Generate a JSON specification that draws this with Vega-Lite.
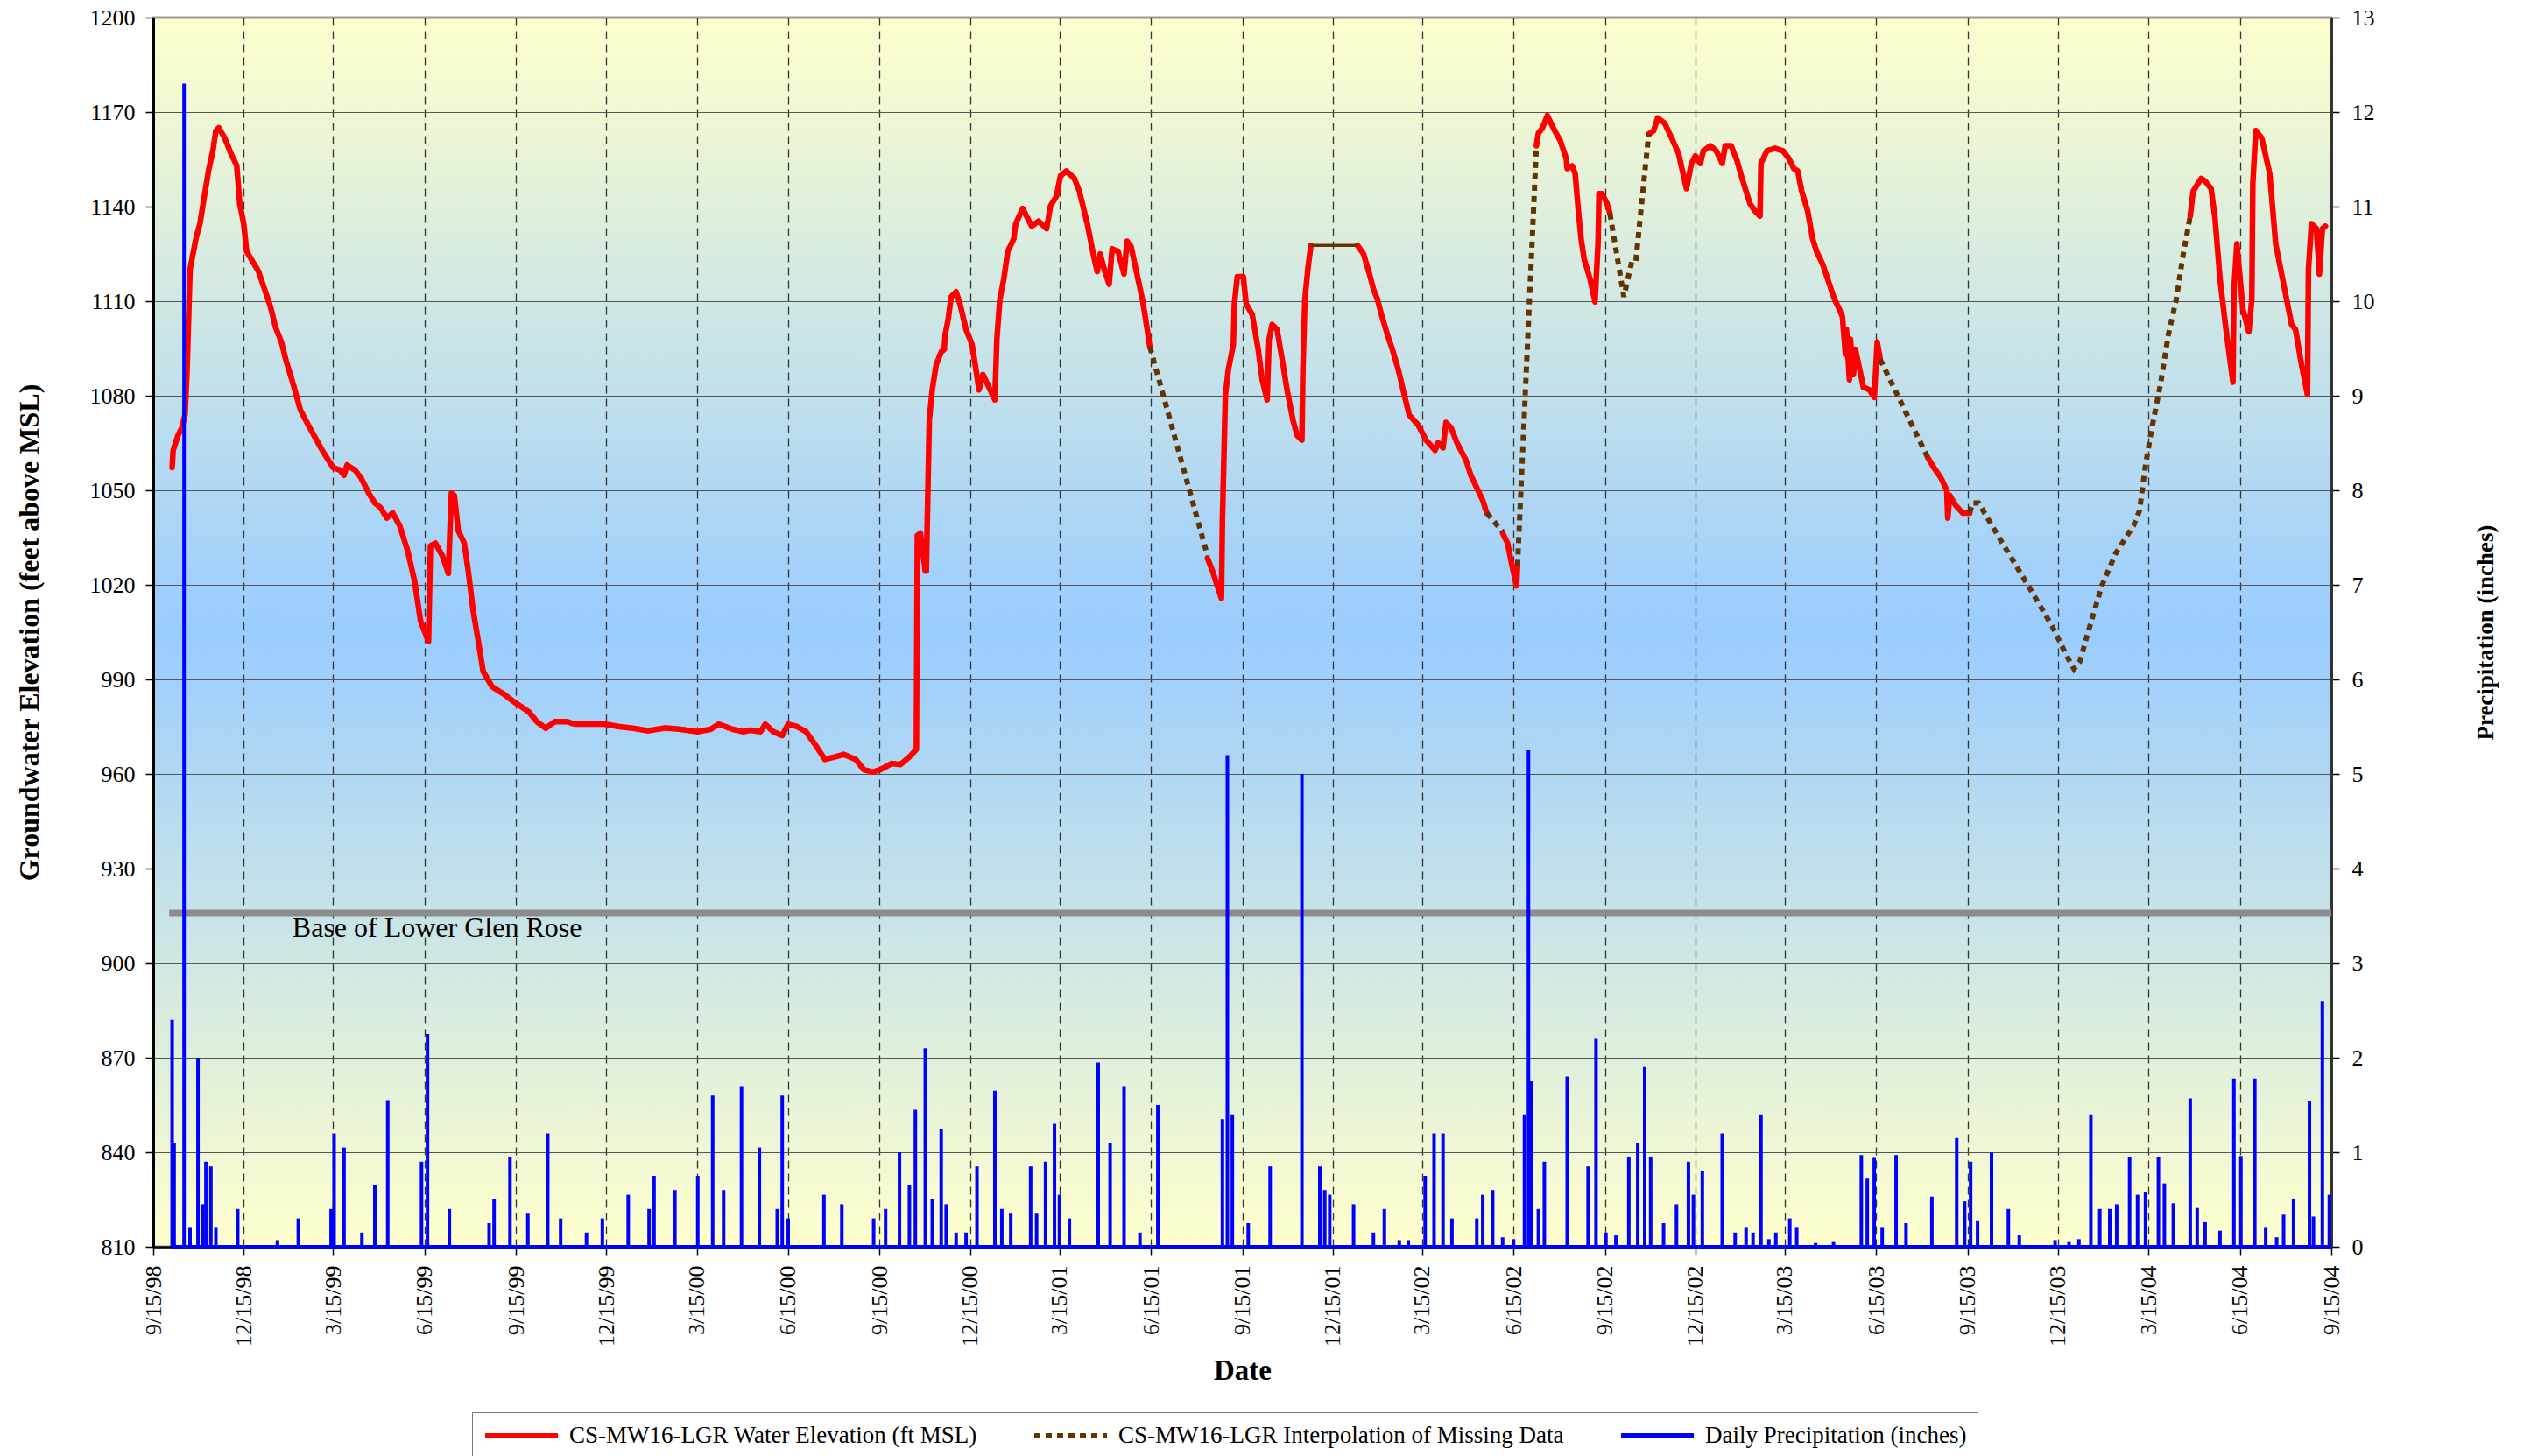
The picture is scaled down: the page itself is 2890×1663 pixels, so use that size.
{
  "$schema": "https://vega.github.io/schema/vega-lite/v6.json",
  "width": 2487,
  "height": 1404,
  "autosize": {"type": "none"},
  "padding": {"left": 175, "top": 20, "right": 228, "bottom": 239},
  "background": "white",
  "view": {
    "fill": {"gradient": "linear", "x1": 0, "y1": 0, "x2": 0, "y2": 1,
      "stops": [{"offset": 0, "color": "#FFFFCC"}, {"offset": 0.5, "color": "#99CCFF"}, {"offset": 1, "color": "#FFFFCC"}]},
    "stroke": "#999999",
    "strokeWidth": 3
  },
  "config": {
    "font": "Liberation Serif",
    "axis": {
      "labelFont": "Liberation Serif", "titleFont": "Liberation Serif",
      "labelColor": "black", "titleColor": "black",
      "labelFontSize": 26, "titleFontSize": 28, "titleFontWeight": "bold",
      "tickColor": "black", "tickSize": 9, "tickWidth": 1.5,
      "domainColor": "black", "domainWidth": 2.5
    }
  },
  "datasets": {
    "red": [
      {"seg": 1, "date": "1998/10/04", "elev": 1057.2},
      {"seg": 1, "date": "1998/10/05", "elev": 1062.7},
      {"seg": 1, "date": "1998/10/10", "elev": 1067.5},
      {"seg": 1, "date": "1998/10/14", "elev": 1070},
      {"seg": 1, "date": "1998/10/17", "elev": 1074},
      {"seg": 1, "date": "1998/10/19", "elev": 1088},
      {"seg": 1, "date": "1998/10/22", "elev": 1120},
      {"seg": 1, "date": "1998/10/25", "elev": 1125},
      {"seg": 1, "date": "1998/10/28", "elev": 1130},
      {"seg": 1, "date": "1998/11/01", "elev": 1134.6},
      {"seg": 1, "date": "1998/11/05", "elev": 1142.5},
      {"seg": 1, "date": "1998/11/10", "elev": 1152},
      {"seg": 1, "date": "1998/11/14", "elev": 1157.7},
      {"seg": 1, "date": "1998/11/17", "elev": 1164},
      {"seg": 1, "date": "1998/11/20", "elev": 1165},
      {"seg": 1, "date": "1998/11/26", "elev": 1161.7},
      {"seg": 1, "date": "1998/12/02", "elev": 1157},
      {"seg": 1, "date": "1998/12/08", "elev": 1153},
      {"seg": 1, "date": "1998/12/11", "elev": 1141},
      {"seg": 1, "date": "1998/12/15", "elev": 1134.6},
      {"seg": 1, "date": "1998/12/18", "elev": 1125.8},
      {"seg": 1, "date": "1998/12/24", "elev": 1122.6},
      {"seg": 1, "date": "1998/12/30", "elev": 1119.4},
      {"seg": 1, "date": "1999/01/05", "elev": 1113.8},
      {"seg": 1, "date": "1999/01/11", "elev": 1108.2},
      {"seg": 1, "date": "1999/01/16", "elev": 1101.8},
      {"seg": 1, "date": "1999/01/22", "elev": 1097},
      {"seg": 1, "date": "1999/01/27", "elev": 1090.7},
      {"seg": 1, "date": "1999/02/03", "elev": 1083.5},
      {"seg": 1, "date": "1999/02/10", "elev": 1075.5},
      {"seg": 1, "date": "1999/02/18", "elev": 1070.7},
      {"seg": 1, "date": "1999/02/25", "elev": 1066.7},
      {"seg": 1, "date": "1999/03/04", "elev": 1062.7},
      {"seg": 1, "date": "1999/03/15", "elev": 1057.2},
      {"seg": 1, "date": "1999/03/22", "elev": 1056.4},
      {"seg": 1, "date": "1999/03/26", "elev": 1054.8},
      {"seg": 1, "date": "1999/03/29", "elev": 1058},
      {"seg": 1, "date": "1999/04/06", "elev": 1056.4},
      {"seg": 1, "date": "1999/04/12", "elev": 1054},
      {"seg": 1, "date": "1999/04/20", "elev": 1049},
      {"seg": 1, "date": "1999/04/26", "elev": 1046},
      {"seg": 1, "date": "1999/05/02", "elev": 1044.4},
      {"seg": 1, "date": "1999/05/08", "elev": 1041.2},
      {"seg": 1, "date": "1999/05/14", "elev": 1042.8},
      {"seg": 1, "date": "1999/05/21", "elev": 1038.8},
      {"seg": 1, "date": "1999/05/29", "elev": 1030.8},
      {"seg": 1, "date": "1999/06/05", "elev": 1021.2},
      {"seg": 1, "date": "1999/06/11", "elev": 1008.5},
      {"seg": 1, "date": "1999/06/15", "elev": 1005.3},
      {"seg": 1, "date": "1999/06/19", "elev": 1002},
      {"seg": 1, "date": "1999/06/21", "elev": 1032.4},
      {"seg": 1, "date": "1999/06/26", "elev": 1033.2},
      {"seg": 1, "date": "1999/07/03", "elev": 1029.2},
      {"seg": 1, "date": "1999/07/09", "elev": 1023.6},
      {"seg": 1, "date": "1999/07/12", "elev": 1049},
      {"seg": 1, "date": "1999/07/15", "elev": 1048.4},
      {"seg": 1, "date": "1999/07/19", "elev": 1037.2},
      {"seg": 1, "date": "1999/07/25", "elev": 1033.2},
      {"seg": 1, "date": "1999/07/29", "elev": 1024.4},
      {"seg": 1, "date": "1999/08/03", "elev": 1011.7},
      {"seg": 1, "date": "1999/08/09", "elev": 1000.5},
      {"seg": 1, "date": "1999/08/13", "elev": 992.5},
      {"seg": 1, "date": "1999/08/22", "elev": 987.7},
      {"seg": 1, "date": "1999/09/03", "elev": 985.3},
      {"seg": 1, "date": "1999/09/13", "elev": 982.9},
      {"seg": 1, "date": "1999/09/28", "elev": 979.7},
      {"seg": 1, "date": "1999/10/06", "elev": 976.6},
      {"seg": 1, "date": "1999/10/15", "elev": 974.5},
      {"seg": 1, "date": "1999/10/24", "elev": 976.6},
      {"seg": 1, "date": "1999/11/05", "elev": 976.6},
      {"seg": 1, "date": "1999/11/14", "elev": 975.8},
      {"seg": 1, "date": "1999/11/28", "elev": 975.8},
      {"seg": 1, "date": "1999/12/13", "elev": 975.8},
      {"seg": 1, "date": "1999/12/28", "elev": 975},
      {"seg": 1, "date": "2000/01/11", "elev": 974.5},
      {"seg": 1, "date": "2000/01/26", "elev": 973.7},
      {"seg": 1, "date": "2000/02/12", "elev": 974.6},
      {"seg": 1, "date": "2000/02/27", "elev": 974.2},
      {"seg": 1, "date": "2000/03/16", "elev": 973.4},
      {"seg": 1, "date": "2000/03/29", "elev": 974.2},
      {"seg": 1, "date": "2000/04/06", "elev": 975.8},
      {"seg": 1, "date": "2000/04/20", "elev": 974.2},
      {"seg": 1, "date": "2000/05/01", "elev": 973.4},
      {"seg": 1, "date": "2000/05/08", "elev": 973.9},
      {"seg": 1, "date": "2000/05/18", "elev": 973.4},
      {"seg": 1, "date": "2000/05/23", "elev": 975.8},
      {"seg": 1, "date": "2000/05/31", "elev": 973.4},
      {"seg": 1, "date": "2000/06/09", "elev": 972.2},
      {"seg": 1, "date": "2000/06/15", "elev": 975.8},
      {"seg": 1, "date": "2000/06/24", "elev": 975},
      {"seg": 1, "date": "2000/07/03", "elev": 973.4},
      {"seg": 1, "date": "2000/07/12", "elev": 969.4},
      {"seg": 1, "date": "2000/07/22", "elev": 964.6},
      {"seg": 1, "date": "2000/08/01", "elev": 965.4},
      {"seg": 1, "date": "2000/08/10", "elev": 966.2},
      {"seg": 1, "date": "2000/08/22", "elev": 964.6},
      {"seg": 1, "date": "2000/08/30", "elev": 961.4},
      {"seg": 1, "date": "2000/09/08", "elev": 960.6},
      {"seg": 1, "date": "2000/09/16", "elev": 961.4},
      {"seg": 1, "date": "2000/09/27", "elev": 963.3},
      {"seg": 1, "date": "2000/10/06", "elev": 963},
      {"seg": 1, "date": "2000/10/15", "elev": 965.4},
      {"seg": 1, "date": "2000/10/22", "elev": 967.8},
      {"seg": 1, "date": "2000/10/23", "elev": 1035.6},
      {"seg": 1, "date": "2000/10/26", "elev": 1036.4},
      {"seg": 1, "date": "2000/10/31", "elev": 1024.4},
      {"seg": 1, "date": "2000/11/01", "elev": 1024.4},
      {"seg": 1, "date": "2000/11/03", "elev": 1056.4},
      {"seg": 1, "date": "2000/11/04", "elev": 1072.3},
      {"seg": 1, "date": "2000/11/07", "elev": 1082},
      {"seg": 1, "date": "2000/11/11", "elev": 1089.9},
      {"seg": 1, "date": "2000/11/16", "elev": 1093.9},
      {"seg": 1, "date": "2000/11/19", "elev": 1094.7},
      {"seg": 1, "date": "2000/11/20", "elev": 1099.4},
      {"seg": 1, "date": "2000/11/23", "elev": 1104.2},
      {"seg": 1, "date": "2000/11/26", "elev": 1111.4},
      {"seg": 1, "date": "2000/12/01", "elev": 1113},
      {"seg": 1, "date": "2000/12/05", "elev": 1109},
      {"seg": 1, "date": "2000/12/11", "elev": 1101},
      {"seg": 1, "date": "2000/12/17", "elev": 1096.3},
      {"seg": 1, "date": "2000/12/21", "elev": 1088.3},
      {"seg": 1, "date": "2000/12/24", "elev": 1081.9},
      {"seg": 1, "date": "2000/12/28", "elev": 1086.7},
      {"seg": 1, "date": "2001/01/03", "elev": 1082.7},
      {"seg": 1, "date": "2001/01/09", "elev": 1078.7},
      {"seg": 1, "date": "2001/01/11", "elev": 1097.9},
      {"seg": 1, "date": "2001/01/14", "elev": 1110.6},
      {"seg": 1, "date": "2001/01/18", "elev": 1117},
      {"seg": 1, "date": "2001/01/22", "elev": 1125.8},
      {"seg": 1, "date": "2001/01/28", "elev": 1129.8},
      {"seg": 1, "date": "2001/01/30", "elev": 1134.6},
      {"seg": 1, "date": "2001/02/06", "elev": 1139.4},
      {"seg": 1, "date": "2001/02/15", "elev": 1133.8},
      {"seg": 1, "date": "2001/02/22", "elev": 1135.4},
      {"seg": 1, "date": "2001/03/02", "elev": 1133},
      {"seg": 1, "date": "2001/03/06", "elev": 1140.2},
      {"seg": 1, "date": "2001/03/12", "elev": 1143.3},
      {"seg": 1, "date": "2001/03/16", "elev": 1149.7},
      {"seg": 1, "date": "2001/03/22", "elev": 1151.3},
      {"seg": 1, "date": "2001/03/30", "elev": 1148.9},
      {"seg": 1, "date": "2001/04/04", "elev": 1144.9},
      {"seg": 1, "date": "2001/04/12", "elev": 1134.6},
      {"seg": 1, "date": "2001/04/18", "elev": 1125},
      {"seg": 1, "date": "2001/04/22", "elev": 1119.4},
      {"seg": 1, "date": "2001/04/25", "elev": 1125},
      {"seg": 1, "date": "2001/04/29", "elev": 1120.2},
      {"seg": 1, "date": "2001/05/04", "elev": 1115.4},
      {"seg": 1, "date": "2001/05/07", "elev": 1126.6},
      {"seg": 1, "date": "2001/05/13", "elev": 1125.8},
      {"seg": 1, "date": "2001/05/19", "elev": 1118.6},
      {"seg": 1, "date": "2001/05/22", "elev": 1129},
      {"seg": 1, "date": "2001/05/26", "elev": 1127.4},
      {"seg": 1, "date": "2001/06/01", "elev": 1118.6},
      {"seg": 1, "date": "2001/06/07", "elev": 1109.8},
      {"seg": 1, "date": "2001/06/14", "elev": 1095.5},
      {"seg": 2, "date": "2001/08/11", "elev": 1028.4},
      {"seg": 2, "date": "2001/08/16", "elev": 1024.4},
      {"seg": 2, "date": "2001/08/25", "elev": 1015.7},
      {"seg": 2, "date": "2001/08/26", "elev": 1040.4},
      {"seg": 2, "date": "2001/08/29", "elev": 1080.3},
      {"seg": 2, "date": "2001/09/01", "elev": 1088.3},
      {"seg": 2, "date": "2001/09/06", "elev": 1096.3},
      {"seg": 2, "date": "2001/09/07", "elev": 1109},
      {"seg": 2, "date": "2001/09/10", "elev": 1117.8},
      {"seg": 2, "date": "2001/09/16", "elev": 1117.8},
      {"seg": 2, "date": "2001/09/19", "elev": 1109},
      {"seg": 2, "date": "2001/09/25", "elev": 1105.8},
      {"seg": 2, "date": "2001/10/01", "elev": 1094.7},
      {"seg": 2, "date": "2001/10/05", "elev": 1085.1},
      {"seg": 2, "date": "2001/10/10", "elev": 1078.7},
      {"seg": 2, "date": "2001/10/12", "elev": 1097.9},
      {"seg": 2, "date": "2001/10/15", "elev": 1102.6},
      {"seg": 2, "date": "2001/10/20", "elev": 1101},
      {"seg": 2, "date": "2001/10/26", "elev": 1089.9},
      {"seg": 2, "date": "2001/10/30", "elev": 1081.9},
      {"seg": 2, "date": "2001/11/05", "elev": 1072.3},
      {"seg": 2, "date": "2001/11/09", "elev": 1067.5},
      {"seg": 2, "date": "2001/11/14", "elev": 1065.9},
      {"seg": 2, "date": "2001/11/15", "elev": 1088.3},
      {"seg": 2, "date": "2001/11/17", "elev": 1110.6},
      {"seg": 2, "date": "2001/11/20", "elev": 1120.2},
      {"seg": 2, "date": "2001/11/23", "elev": 1127.7},
      {"seg": 3, "date": "2002/01/09", "elev": 1127.7},
      {"seg": 3, "date": "2002/01/15", "elev": 1125},
      {"seg": 3, "date": "2002/01/21", "elev": 1118.6},
      {"seg": 3, "date": "2002/01/25", "elev": 1113.8},
      {"seg": 3, "date": "2002/01/29", "elev": 1110.6},
      {"seg": 3, "date": "2002/02/02", "elev": 1105.8},
      {"seg": 3, "date": "2002/02/08", "elev": 1099.4},
      {"seg": 3, "date": "2002/02/13", "elev": 1094.7},
      {"seg": 3, "date": "2002/02/19", "elev": 1088.3},
      {"seg": 3, "date": "2002/02/25", "elev": 1080.3},
      {"seg": 3, "date": "2002/03/02", "elev": 1073.9},
      {"seg": 3, "date": "2002/03/11", "elev": 1070.7},
      {"seg": 3, "date": "2002/03/19", "elev": 1065.9},
      {"seg": 3, "date": "2002/03/28", "elev": 1062.7},
      {"seg": 3, "date": "2002/03/31", "elev": 1065.1},
      {"seg": 3, "date": "2002/04/05", "elev": 1063.5},
      {"seg": 3, "date": "2002/04/08", "elev": 1071.5},
      {"seg": 3, "date": "2002/04/13", "elev": 1069.9},
      {"seg": 3, "date": "2002/04/19", "elev": 1065.1},
      {"seg": 3, "date": "2002/04/28", "elev": 1059.6},
      {"seg": 3, "date": "2002/05/03", "elev": 1054.8},
      {"seg": 3, "date": "2002/05/09", "elev": 1050.8},
      {"seg": 3, "date": "2002/05/15", "elev": 1046.8},
      {"seg": 3, "date": "2002/05/19", "elev": 1042.8},
      {"seg": 4, "date": "2002/06/04", "elev": 1036.4},
      {"seg": 4, "date": "2002/06/09", "elev": 1033.2},
      {"seg": 4, "date": "2002/06/13", "elev": 1026.8},
      {"seg": 4, "date": "2002/06/18", "elev": 1019.7},
      {"seg": 4, "date": "2002/06/19", "elev": 1026},
      {"seg": 5, "date": "2002/07/08", "elev": 1159.3},
      {"seg": 5, "date": "2002/07/10", "elev": 1163.3},
      {"seg": 5, "date": "2002/07/14", "elev": 1164.9},
      {"seg": 5, "date": "2002/07/19", "elev": 1168.9},
      {"seg": 5, "date": "2002/07/25", "elev": 1164.9},
      {"seg": 5, "date": "2002/08/01", "elev": 1160.9},
      {"seg": 5, "date": "2002/08/07", "elev": 1155.3},
      {"seg": 5, "date": "2002/08/08", "elev": 1152.1},
      {"seg": 5, "date": "2002/08/13", "elev": 1152.9},
      {"seg": 5, "date": "2002/08/16", "elev": 1150.5},
      {"seg": 5, "date": "2002/08/19", "elev": 1139.4},
      {"seg": 5, "date": "2002/08/22", "elev": 1129.8},
      {"seg": 5, "date": "2002/08/25", "elev": 1123.4},
      {"seg": 5, "date": "2002/08/31", "elev": 1117},
      {"seg": 5, "date": "2002/09/05", "elev": 1109.8},
      {"seg": 5, "date": "2002/09/08", "elev": 1128.2},
      {"seg": 5, "date": "2002/09/09", "elev": 1144.1},
      {"seg": 5, "date": "2002/09/12", "elev": 1144.1},
      {"seg": 5, "date": "2002/09/17", "elev": 1141},
      {"seg": 5, "date": "2002/09/20", "elev": 1137.8},
      {"seg": 6, "date": "2002/10/29", "elev": 1163},
      {"seg": 6, "date": "2002/11/03", "elev": 1164.1},
      {"seg": 6, "date": "2002/11/07", "elev": 1168.1},
      {"seg": 6, "date": "2002/11/14", "elev": 1166.5},
      {"seg": 6, "date": "2002/11/20", "elev": 1162.5},
      {"seg": 6, "date": "2002/11/28", "elev": 1156.9},
      {"seg": 6, "date": "2002/12/02", "elev": 1151.3},
      {"seg": 6, "date": "2002/12/06", "elev": 1145.7},
      {"seg": 6, "date": "2002/12/11", "elev": 1153.7},
      {"seg": 6, "date": "2002/12/15", "elev": 1156.1},
      {"seg": 6, "date": "2002/12/20", "elev": 1153.7},
      {"seg": 6, "date": "2002/12/23", "elev": 1157.7},
      {"seg": 6, "date": "2002/12/30", "elev": 1159.3},
      {"seg": 6, "date": "2003/01/05", "elev": 1157.7},
      {"seg": 6, "date": "2003/01/11", "elev": 1153.7},
      {"seg": 6, "date": "2003/01/14", "elev": 1159.3},
      {"seg": 6, "date": "2003/01/20", "elev": 1159.3},
      {"seg": 6, "date": "2003/01/26", "elev": 1154.5},
      {"seg": 6, "date": "2003/01/31", "elev": 1148.9},
      {"seg": 6, "date": "2003/02/08", "elev": 1140.9},
      {"seg": 6, "date": "2003/02/13", "elev": 1138.6},
      {"seg": 6, "date": "2003/02/18", "elev": 1137},
      {"seg": 6, "date": "2003/02/19", "elev": 1153.7},
      {"seg": 6, "date": "2003/02/25", "elev": 1157.7},
      {"seg": 6, "date": "2003/03/05", "elev": 1158.5},
      {"seg": 6, "date": "2003/03/13", "elev": 1157.7},
      {"seg": 6, "date": "2003/03/19", "elev": 1155.3},
      {"seg": 6, "date": "2003/03/24", "elev": 1152.1},
      {"seg": 6, "date": "2003/03/28", "elev": 1151.3},
      {"seg": 6, "date": "2003/04/01", "elev": 1144.9},
      {"seg": 6, "date": "2003/04/07", "elev": 1138.6},
      {"seg": 6, "date": "2003/04/12", "elev": 1129.8},
      {"seg": 6, "date": "2003/04/16", "elev": 1125.8},
      {"seg": 6, "date": "2003/04/22", "elev": 1121.8},
      {"seg": 6, "date": "2003/04/28", "elev": 1116.2},
      {"seg": 6, "date": "2003/05/04", "elev": 1110.6},
      {"seg": 6, "date": "2003/05/09", "elev": 1107.4},
      {"seg": 6, "date": "2003/05/12", "elev": 1105},
      {"seg": 6, "date": "2003/05/15", "elev": 1093.1},
      {"seg": 6, "date": "2003/05/16", "elev": 1101},
      {"seg": 6, "date": "2003/05/19", "elev": 1085.1},
      {"seg": 6, "date": "2003/05/20", "elev": 1097.9},
      {"seg": 6, "date": "2003/05/23", "elev": 1086.7},
      {"seg": 6, "date": "2003/05/25", "elev": 1094.7},
      {"seg": 6, "date": "2003/05/31", "elev": 1085.9},
      {"seg": 6, "date": "2003/06/02", "elev": 1082.7},
      {"seg": 6, "date": "2003/06/08", "elev": 1081.9},
      {"seg": 6, "date": "2003/06/13", "elev": 1079.5},
      {"seg": 6, "date": "2003/06/16", "elev": 1097},
      {"seg": 6, "date": "2003/06/19", "elev": 1091.5},
      {"seg": 7, "date": "2003/08/06", "elev": 1060.3},
      {"seg": 7, "date": "2003/08/12", "elev": 1057.2},
      {"seg": 7, "date": "2003/08/19", "elev": 1054},
      {"seg": 7, "date": "2003/08/25", "elev": 1050},
      {"seg": 7, "date": "2003/08/26", "elev": 1041.2},
      {"seg": 7, "date": "2003/08/28", "elev": 1048.4},
      {"seg": 7, "date": "2003/09/03", "elev": 1045.2},
      {"seg": 7, "date": "2003/09/10", "elev": 1042.8},
      {"seg": 7, "date": "2003/09/17", "elev": 1042.8},
      {"seg": 8, "date": "2004/04/26", "elev": 1137},
      {"seg": 8, "date": "2004/04/29", "elev": 1144.9},
      {"seg": 8, "date": "2004/05/07", "elev": 1148.9},
      {"seg": 8, "date": "2004/05/11", "elev": 1148.1},
      {"seg": 8, "date": "2004/05/17", "elev": 1145.7},
      {"seg": 8, "date": "2004/05/21", "elev": 1136.2},
      {"seg": 8, "date": "2004/05/26", "elev": 1117},
      {"seg": 8, "date": "2004/06/01", "elev": 1101},
      {"seg": 8, "date": "2004/06/08", "elev": 1084.3},
      {"seg": 8, "date": "2004/06/09", "elev": 1113.8},
      {"seg": 8, "date": "2004/06/12", "elev": 1128.2},
      {"seg": 8, "date": "2004/06/18", "elev": 1107.4},
      {"seg": 8, "date": "2004/06/24", "elev": 1100.3},
      {"seg": 8, "date": "2004/06/27", "elev": 1110.6},
      {"seg": 8, "date": "2004/06/28", "elev": 1147.3},
      {"seg": 8, "date": "2004/07/01", "elev": 1164.1},
      {"seg": 8, "date": "2004/07/07", "elev": 1161.7},
      {"seg": 8, "date": "2004/07/15", "elev": 1150.5},
      {"seg": 8, "date": "2004/07/21", "elev": 1128.2},
      {"seg": 8, "date": "2004/07/30", "elev": 1113.8},
      {"seg": 8, "date": "2004/08/06", "elev": 1102.6},
      {"seg": 8, "date": "2004/08/10", "elev": 1101},
      {"seg": 8, "date": "2004/08/16", "elev": 1089.9},
      {"seg": 8, "date": "2004/08/22", "elev": 1080.3},
      {"seg": 8, "date": "2004/08/23", "elev": 1120.2},
      {"seg": 8, "date": "2004/08/26", "elev": 1134.6},
      {"seg": 8, "date": "2004/08/31", "elev": 1133},
      {"seg": 8, "date": "2004/09/03", "elev": 1118.6},
      {"seg": 8, "date": "2004/09/06", "elev": 1133},
      {"seg": 8, "date": "2004/09/09", "elev": 1133.8}
    ],
    "interp": [
      {"seg": 1, "style": "dot", "date": "2001/06/14", "elev": 1095.5},
      {"seg": 1, "style": "dot", "date": "2001/08/11", "elev": 1029.2},
      {"seg": 2, "style": "flat", "date": "2001/11/23", "elev": 1127.7},
      {"seg": 2, "style": "flat", "date": "2002/01/09", "elev": 1127.7},
      {"seg": 3, "style": "dot", "date": "2002/05/19", "elev": 1042.8},
      {"seg": 3, "style": "dot", "date": "2002/06/04", "elev": 1036.9},
      {"seg": 4, "style": "dot", "date": "2002/06/19", "elev": 1026},
      {"seg": 4, "style": "dot", "date": "2002/07/08", "elev": 1159.3},
      {"seg": 5, "style": "dot", "date": "2002/09/20", "elev": 1137.8},
      {"seg": 5, "style": "dot", "date": "2002/10/04", "elev": 1111.4},
      {"seg": 5, "style": "dot", "date": "2002/10/12", "elev": 1122.6},
      {"seg": 5, "style": "dot", "date": "2002/10/16", "elev": 1122.6},
      {"seg": 5, "style": "dot", "date": "2002/10/29", "elev": 1163},
      {"seg": 6, "style": "dot", "date": "2003/06/19", "elev": 1091.5},
      {"seg": 6, "style": "dot", "date": "2003/08/06", "elev": 1060.3},
      {"seg": 7, "style": "dot", "date": "2003/09/17", "elev": 1042.8},
      {"seg": 7, "style": "dot", "date": "2003/09/20", "elev": 1046},
      {"seg": 7, "style": "dot", "date": "2003/09/26", "elev": 1046},
      {"seg": 7, "style": "dot", "date": "2003/10/17", "elev": 1034.8},
      {"seg": 7, "style": "dot", "date": "2003/11/15", "elev": 1019.7},
      {"seg": 7, "style": "dot", "date": "2003/12/09", "elev": 1006.9},
      {"seg": 7, "style": "dot", "date": "2003/12/24", "elev": 997.3},
      {"seg": 7, "style": "dot", "date": "2003/12/31", "elev": 993.3},
      {"seg": 7, "style": "dot", "date": "2004/01/06", "elev": 995.7},
      {"seg": 7, "style": "dot", "date": "2004/01/13", "elev": 1003.7},
      {"seg": 7, "style": "dot", "date": "2004/01/28", "elev": 1019.7},
      {"seg": 7, "style": "dot", "date": "2004/02/11", "elev": 1030},
      {"seg": 7, "style": "dot", "date": "2004/02/29", "elev": 1038.8},
      {"seg": 7, "style": "dot", "date": "2004/03/06", "elev": 1043.6},
      {"seg": 7, "style": "dot", "date": "2004/03/12", "elev": 1058},
      {"seg": 7, "style": "dot", "date": "2004/03/18", "elev": 1069.1},
      {"seg": 7, "style": "dot", "date": "2004/03/27", "elev": 1083.5},
      {"seg": 7, "style": "dot", "date": "2004/04/04", "elev": 1099.4},
      {"seg": 7, "style": "dot", "date": "2004/04/12", "elev": 1110.6},
      {"seg": 7, "style": "dot", "date": "2004/04/19", "elev": 1125},
      {"seg": 7, "style": "dot", "date": "2004/04/26", "elev": 1137}
    ],
    "precip": [
      {"date": "1998/10/04", "inches": 2.4},
      {"date": "1998/10/06", "inches": 1.1},
      {"date": "1998/10/16", "inches": 12.3},
      {"date": "1998/10/22", "inches": 0.2},
      {"date": "1998/10/30", "inches": 2.0},
      {"date": "1998/11/04", "inches": 0.45},
      {"date": "1998/11/07", "inches": 0.9},
      {"date": "1998/11/12", "inches": 0.85},
      {"date": "1998/11/17", "inches": 0.2},
      {"date": "1998/12/09", "inches": 0.4},
      {"date": "1999/01/18", "inches": 0.07},
      {"date": "1999/02/08", "inches": 0.3},
      {"date": "1999/03/13", "inches": 0.4},
      {"date": "1999/03/16", "inches": 1.2},
      {"date": "1999/03/26", "inches": 1.05},
      {"date": "1999/04/13", "inches": 0.15},
      {"date": "1999/04/26", "inches": 0.65},
      {"date": "1999/05/09", "inches": 1.55},
      {"date": "1999/06/12", "inches": 0.9},
      {"date": "1999/06/18", "inches": 2.25},
      {"date": "1999/07/10", "inches": 0.4},
      {"date": "1999/08/19", "inches": 0.25},
      {"date": "1999/08/24", "inches": 0.5},
      {"date": "1999/09/09", "inches": 0.95},
      {"date": "1999/09/27", "inches": 0.35},
      {"date": "1999/10/17", "inches": 1.2},
      {"date": "1999/10/30", "inches": 0.3},
      {"date": "1999/11/25", "inches": 0.15},
      {"date": "1999/12/11", "inches": 0.3},
      {"date": "2000/01/06", "inches": 0.55},
      {"date": "2000/01/27", "inches": 0.4},
      {"date": "2000/02/01", "inches": 0.75},
      {"date": "2000/02/22", "inches": 0.6},
      {"date": "2000/03/16", "inches": 0.75},
      {"date": "2000/03/31", "inches": 1.6},
      {"date": "2000/04/11", "inches": 0.6},
      {"date": "2000/04/29", "inches": 1.7},
      {"date": "2000/05/17", "inches": 1.05},
      {"date": "2000/06/04", "inches": 0.4},
      {"date": "2000/06/09", "inches": 1.6},
      {"date": "2000/06/15", "inches": 0.3},
      {"date": "2000/07/21", "inches": 0.55},
      {"date": "2000/08/08", "inches": 0.45},
      {"date": "2000/09/09", "inches": 0.3},
      {"date": "2000/09/21", "inches": 0.4},
      {"date": "2000/10/05", "inches": 1.0},
      {"date": "2000/10/15", "inches": 0.65},
      {"date": "2000/10/21", "inches": 1.45},
      {"date": "2000/10/31", "inches": 2.1},
      {"date": "2000/11/07", "inches": 0.5},
      {"date": "2000/11/16", "inches": 1.25},
      {"date": "2000/11/21", "inches": 0.45},
      {"date": "2000/12/01", "inches": 0.15},
      {"date": "2000/12/11", "inches": 0.15},
      {"date": "2000/12/22", "inches": 0.85},
      {"date": "2001/01/09", "inches": 1.65},
      {"date": "2001/01/16", "inches": 0.4},
      {"date": "2001/01/25", "inches": 0.35},
      {"date": "2001/02/14", "inches": 0.85},
      {"date": "2001/02/20", "inches": 0.35},
      {"date": "2001/03/01", "inches": 0.9},
      {"date": "2001/03/10", "inches": 1.3},
      {"date": "2001/03/15", "inches": 0.55},
      {"date": "2001/03/25", "inches": 0.3},
      {"date": "2001/04/23", "inches": 1.95},
      {"date": "2001/05/05", "inches": 1.1},
      {"date": "2001/05/19", "inches": 1.7},
      {"date": "2001/06/04", "inches": 0.15},
      {"date": "2001/06/22", "inches": 1.5},
      {"date": "2001/08/26", "inches": 1.35},
      {"date": "2001/08/31", "inches": 5.2},
      {"date": "2001/09/05", "inches": 1.4},
      {"date": "2001/09/21", "inches": 0.25},
      {"date": "2001/10/13", "inches": 0.85},
      {"date": "2001/11/14", "inches": 5.0},
      {"date": "2001/12/02", "inches": 0.85},
      {"date": "2001/12/07", "inches": 0.6},
      {"date": "2001/12/12", "inches": 0.55},
      {"date": "2002/01/05", "inches": 0.45},
      {"date": "2002/01/25", "inches": 0.15},
      {"date": "2002/02/05", "inches": 0.4},
      {"date": "2002/02/20", "inches": 0.07},
      {"date": "2002/03/01", "inches": 0.07},
      {"date": "2002/03/18", "inches": 0.75},
      {"date": "2002/03/27", "inches": 1.2},
      {"date": "2002/04/05", "inches": 1.2},
      {"date": "2002/04/14", "inches": 0.3},
      {"date": "2002/05/09", "inches": 0.3},
      {"date": "2002/05/15", "inches": 0.55},
      {"date": "2002/05/25", "inches": 0.6},
      {"date": "2002/06/04", "inches": 0.1},
      {"date": "2002/06/15", "inches": 0.08},
      {"date": "2002/06/26", "inches": 1.4},
      {"date": "2002/06/30", "inches": 5.25},
      {"date": "2002/07/03", "inches": 1.75},
      {"date": "2002/07/10", "inches": 0.4},
      {"date": "2002/07/16", "inches": 0.9},
      {"date": "2002/08/08", "inches": 1.8},
      {"date": "2002/08/29", "inches": 0.85},
      {"date": "2002/09/06", "inches": 2.2},
      {"date": "2002/09/16", "inches": 0.15},
      {"date": "2002/09/26", "inches": 0.12},
      {"date": "2002/10/09", "inches": 0.95},
      {"date": "2002/10/18", "inches": 1.1},
      {"date": "2002/10/25", "inches": 1.9},
      {"date": "2002/10/31", "inches": 0.95},
      {"date": "2002/11/13", "inches": 0.25},
      {"date": "2002/11/26", "inches": 0.45},
      {"date": "2002/12/08", "inches": 0.9},
      {"date": "2002/12/13", "inches": 0.55},
      {"date": "2002/12/22", "inches": 0.8},
      {"date": "2003/01/11", "inches": 1.2},
      {"date": "2003/01/24", "inches": 0.15},
      {"date": "2003/02/04", "inches": 0.2},
      {"date": "2003/02/11", "inches": 0.15},
      {"date": "2003/02/19", "inches": 1.4},
      {"date": "2003/02/27", "inches": 0.08},
      {"date": "2003/03/06", "inches": 0.15},
      {"date": "2003/03/20", "inches": 0.3},
      {"date": "2003/03/27", "inches": 0.2},
      {"date": "2003/04/15", "inches": 0.04},
      {"date": "2003/05/03", "inches": 0.05},
      {"date": "2003/05/31", "inches": 0.97},
      {"date": "2003/06/06", "inches": 0.72},
      {"date": "2003/06/13", "inches": 0.94},
      {"date": "2003/06/21", "inches": 0.2},
      {"date": "2003/07/05", "inches": 0.97},
      {"date": "2003/07/15", "inches": 0.25},
      {"date": "2003/08/10", "inches": 0.53},
      {"date": "2003/09/04", "inches": 1.15},
      {"date": "2003/09/12", "inches": 0.48},
      {"date": "2003/09/18", "inches": 0.9},
      {"date": "2003/09/25", "inches": 0.27},
      {"date": "2003/10/09", "inches": 1.0},
      {"date": "2003/10/26", "inches": 0.4},
      {"date": "2003/11/06", "inches": 0.12},
      {"date": "2003/12/12", "inches": 0.07},
      {"date": "2003/12/26", "inches": 0.05},
      {"date": "2004/01/05", "inches": 0.08},
      {"date": "2004/01/17", "inches": 1.4},
      {"date": "2004/01/26", "inches": 0.4},
      {"date": "2004/02/05", "inches": 0.4},
      {"date": "2004/02/12", "inches": 0.45},
      {"date": "2004/02/25", "inches": 0.95},
      {"date": "2004/03/04", "inches": 0.55},
      {"date": "2004/03/12", "inches": 0.58},
      {"date": "2004/03/25", "inches": 0.95},
      {"date": "2004/03/31", "inches": 0.67},
      {"date": "2004/04/09", "inches": 0.46},
      {"date": "2004/04/26", "inches": 1.57},
      {"date": "2004/05/03", "inches": 0.41},
      {"date": "2004/05/11", "inches": 0.26},
      {"date": "2004/05/26", "inches": 0.17},
      {"date": "2004/06/09", "inches": 1.78},
      {"date": "2004/06/16", "inches": 0.96},
      {"date": "2004/06/30", "inches": 1.78},
      {"date": "2004/07/11", "inches": 0.2},
      {"date": "2004/07/22", "inches": 0.1},
      {"date": "2004/07/29", "inches": 0.34},
      {"date": "2004/08/08", "inches": 0.51},
      {"date": "2004/08/24", "inches": 1.54},
      {"date": "2004/08/28", "inches": 0.32},
      {"date": "2004/09/06", "inches": 2.6},
      {"date": "2004/09/13", "inches": 0.55}
    ]
  },
  "layer": [
    {
      "layer": [
        {
          "data": {"values": [{"start": "1998/10/01", "end": "2004/09/15", "elev": 916}]},
          "mark": {"type": "rule", "color": "#8C8C8C", "strokeWidth": 8},
          "encoding": {
            "x": {"field": "start", "type": "temporal",
              "scale": {"domain": [{"year": 1998, "month": 9, "date": 15}, {"year": 2004, "month": 9, "date": 15}], "nice": false},
              "axis": {
                "title": "Date",
                "values": [
                  {"year": 1998, "month": 9, "date": 15}, {"year": 1998, "month": 12, "date": 15},
                  {"year": 1999, "month": 3, "date": 15}, {"year": 1999, "month": 6, "date": 15},
                  {"year": 1999, "month": 9, "date": 15}, {"year": 1999, "month": 12, "date": 15},
                  {"year": 2000, "month": 3, "date": 15}, {"year": 2000, "month": 6, "date": 15},
                  {"year": 2000, "month": 9, "date": 15}, {"year": 2000, "month": 12, "date": 15},
                  {"year": 2001, "month": 3, "date": 15}, {"year": 2001, "month": 6, "date": 15},
                  {"year": 2001, "month": 9, "date": 15}, {"year": 2001, "month": 12, "date": 15},
                  {"year": 2002, "month": 3, "date": 15}, {"year": 2002, "month": 6, "date": 15},
                  {"year": 2002, "month": 9, "date": 15}, {"year": 2002, "month": 12, "date": 15},
                  {"year": 2003, "month": 3, "date": 15}, {"year": 2003, "month": 6, "date": 15},
                  {"year": 2003, "month": 9, "date": 15}, {"year": 2003, "month": 12, "date": 15},
                  {"year": 2004, "month": 3, "date": 15}, {"year": 2004, "month": 6, "date": 15},
                  {"year": 2004, "month": 9, "date": 15}
                ],
                "format": "%-m/%-d/%y",
                "labelAngle": 270,
                "labelPadding": 12,
                "labelOverlap": false,
                "labelFlush": false,
                "grid": true,
                "gridColor": "#333333",
                "gridDash": [9, 6],
                "gridWidth": 1.3,
                "titleFontSize": 33,
                "titleY": 141,
                "titleBaseline": "middle"
              }
            },
            "x2": {"field": "end"},
            "y": {"field": "elev", "type": "quantitative",
              "scale": {"domain": [810, 1200], "nice": false, "zero": false},
              "axis": {
                "title": "Groundwater Elevation (feet above MSL)",
                "values": [810, 840, 870, 900, 930, 960, 990, 1020, 1050, 1080, 1110, 1140, 1170, 1200],
                "format": "d",
                "grid": true,
                "gridColor": "#555555",
                "gridWidth": 1.2,
                "labelPadding": 12,
                "domainWidth": 3,
                "titleFontSize": 32,
                "titleAngle": 270,
                "titleX": -142,
                "titleY": 702,
                "titleAlign": "center",
                "titleBaseline": "middle"
              }
            }
          }
        },
        {
          "data": {"values": [{"name": "Base of Lower Glen Rose"}]},
          "mark": {"type": "text", "align": "left", "baseline": "middle", "dy": 18, "fontSize": 32, "font": "Liberation Serif", "color": "black"},
          "encoding": {
            "x": {"datum": {"year": 1999, "month": 2, "date": 2}, "type": "temporal"},
            "y": {"datum": 916, "type": "quantitative"},
            "text": {"field": "name"}
          }
        },
        {
          "data": {"name": "red"},
          "mark": {"type": "line", "strokeWidth": 6.5, "strokeCap": "round", "strokeJoin": "round"},
          "encoding": {
            "x": {"field": "date", "type": "temporal"},
            "y": {"field": "elev", "type": "quantitative"},
            "detail": {"field": "seg"},
            "color": {"datum": "CS-MW16-LGR Water Elevation (ft MSL)", "type": "nominal",
              "scale": {"domain": ["CS-MW16-LGR Water Elevation (ft MSL)", "CS-MW16-LGR Interpolation of Missing Data", "Daily Precipitation (inches)"],
                        "range": ["#FF0000", "#663300", "#0000FF"]},
              "legend": {"title": null, "orient": "none", "legendX": 364, "legendY": 1593, "direction": "horizontal", "columns": 3,
                "symbolType": "stroke", "symbolSize": 6889, "symbolStrokeWidth": 6, "clipHeight": 30,
                "labelFont": "Liberation Serif", "labelFontSize": 27,
                "labelColor": "black", "labelLimit": 0, "labelOffset": 10, "columnPadding": 62, "padding": 12,
                "strokeColor": "#777777", "fillColor": "white"}
            },
            "strokeDash": {"datum": "CS-MW16-LGR Water Elevation (ft MSL)", "type": "nominal",
              "scale": {"domain": ["CS-MW16-LGR Water Elevation (ft MSL)", "CS-MW16-LGR Interpolation of Missing Data", "Daily Precipitation (inches)"],
                        "range": [[1, 0], [7, 6], [1, 0]]},
              "legend": {"title": null, "orient": "none", "legendX": 364, "legendY": 1593, "direction": "horizontal", "columns": 3,
                "symbolType": "stroke", "symbolSize": 6889, "symbolStrokeWidth": 6, "clipHeight": 30,
                "labelFont": "Liberation Serif", "labelFontSize": 27,
                "labelColor": "black", "labelLimit": 0, "labelOffset": 10, "columnPadding": 62, "padding": 12,
                "strokeColor": "#777777", "fillColor": "white"}
            }
          }
        },
        {
          "data": {"name": "interp"},
          "transform": [{"filter": "datum.style === 'dot'"}],
          "mark": {"type": "line", "strokeWidth": 6},
          "encoding": {
            "x": {"field": "date", "type": "temporal"},
            "y": {"field": "elev", "type": "quantitative"},
            "detail": {"field": "seg"},
            "color": {"datum": "CS-MW16-LGR Interpolation of Missing Data", "type": "nominal"},
            "strokeDash": {"datum": "CS-MW16-LGR Interpolation of Missing Data", "type": "nominal"}
          }
        },
        {
          "data": {"name": "interp"},
          "transform": [{"filter": "datum.style === 'flat'"}],
          "mark": {"type": "line", "strokeWidth": 3.5, "color": "#663300"},
          "encoding": {
            "x": {"field": "date", "type": "temporal"},
            "y": {"field": "elev", "type": "quantitative"},
            "detail": {"field": "seg"}
          }
        }
      ]
    },
    {
      "layer": [
        {
          "data": {"values": [{"date": "1998/10/04", "inches": 0}, {"date": "2004/09/15", "inches": 0}]},
          "mark": {"type": "line", "strokeWidth": 4, "color": "#0000FF"},
          "encoding": {
            "x": {"field": "date", "type": "temporal"},
            "y": {"field": "inches", "type": "quantitative",
              "scale": {"domain": [0, 13], "nice": false},
              "axis": {
                "orient": "right",
                "title": "Precipitation (inches)",
                "values": [0, 1, 2, 3, 4, 5, 6, 7, 8, 9, 10, 11, 12, 13],
                "format": "d",
                "grid": false,
                "labelPadding": 14,
                "domainColor": "#333333",
                "domainWidth": 3,
                "titleFontSize": 27,
                "titleAngle": 270,
                "titleX": 176,
                "titleY": 702,
                "titleAlign": "center",
                "titleBaseline": "middle"
              }
            }
          }
        },
        {
          "data": {"name": "precip"},
          "mark": {"type": "rule", "strokeWidth": 4},
          "encoding": {
            "x": {"field": "date", "type": "temporal"},
            "y": {"field": "inches", "type": "quantitative"},
            "y2": {"datum": 0},
            "color": {"datum": "Daily Precipitation (inches)", "type": "nominal"}
          }
        }
      ]
    }
  ],
  "resolve": {"scale": {"y": "independent"}}
}
